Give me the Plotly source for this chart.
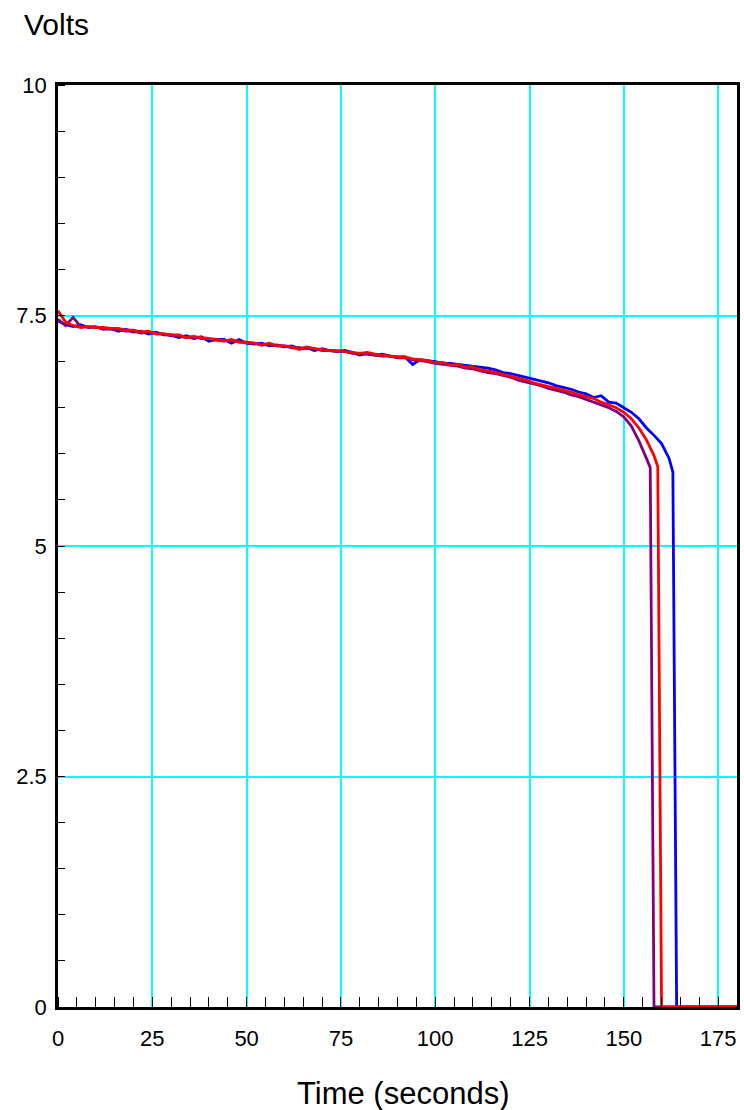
import plotly.graph_objects as go

# Battery discharge runs: voltage sampled every 2 s, then the knee and cutoff
step_s = 2

blue_v = [7.44, 7.40, 7.38, 7.40, 7.37, 7.38, 7.35, 7.36, 7.33, 7.35,
          7.32, 7.33, 7.30, 7.32, 7.29, 7.29, 7.26, 7.28, 7.25, 7.27,
          7.22, 7.24, 7.24, 7.20, 7.24, 7.20, 7.19, 7.20, 7.17, 7.18,
          7.16, 7.17, 7.14, 7.15, 7.12, 7.14, 7.12, 7.11, 7.12, 7.10,
          7.07, 7.09, 7.07, 7.08, 7.06, 7.05, 7.05, 6.97, 7.02, 7.01,
          7.00, 6.98, 6.98, 6.97, 6.96, 6.95, 6.94, 6.93, 6.91, 6.88,
          6.87, 6.85, 6.83, 6.81, 6.79, 6.77, 6.74, 6.72, 6.70, 6.67,
          6.65, 6.61, 6.63, 6.56, 6.55]
blue_tail_t = [150, 152, 154, 156, 158, 160, 162, 163, 164, 180]
blue_tail_v = [6.50, 6.45, 6.38, 6.28, 6.20, 6.11, 5.95, 5.80, 0, 0]

purple_v = [7.46, 7.39, 7.48, 7.38, 7.38, 7.37, 7.36, 7.35, 7.35, 7.33,
            7.33, 7.31, 7.32, 7.30, 7.30, 7.28, 7.28, 7.26, 7.27, 7.25,
            7.25, 7.23, 7.23, 7.22, 7.22, 7.20, 7.20, 7.18, 7.19, 7.17,
            7.17, 7.15, 7.15, 7.14, 7.14, 7.12, 7.12, 7.11, 7.11, 7.09,
            7.09, 7.08, 7.07, 7.06, 7.06, 7.04, 7.04, 7.02, 7.01, 7.00,
            6.98, 6.97, 6.96, 6.95, 6.93, 6.92, 6.90, 6.88, 6.87, 6.85,
            6.83, 6.80, 6.78, 6.76, 6.74, 6.71, 6.69, 6.67, 6.64, 6.62,
            6.59, 6.56, 6.53, 6.50, 6.46]
purple_tail_t = [150, 152, 154, 156, 157, 158, 180]
purple_tail_v = [6.40, 6.30, 6.14, 5.95, 5.85, 0, 0]

red_v = [7.55, 7.43, 7.39, 7.37, 7.38, 7.37, 7.37, 7.36, 7.36, 7.34,
         7.34, 7.32, 7.33, 7.30, 7.30, 7.29, 7.29, 7.26, 7.27, 7.26,
         7.25, 7.24, 7.22, 7.24, 7.21, 7.21, 7.20, 7.18, 7.20, 7.17,
         7.17, 7.16, 7.13, 7.16, 7.14, 7.13, 7.12, 7.12, 7.11, 7.10,
         7.09, 7.10, 7.08, 7.07, 7.06, 7.05, 7.05, 7.03, 7.02, 7.01,
         6.99, 6.99, 6.96, 6.97, 6.94, 6.94, 6.91, 6.90, 6.88, 6.86,
         6.84, 6.82, 6.80, 6.77, 6.75, 6.73, 6.71, 6.69, 6.67, 6.64,
         6.62, 6.60, 6.56, 6.53, 6.50]
red_tail_t = [150, 152, 154, 156, 158, 159, 160, 180]
red_tail_v = [6.45, 6.38, 6.28, 6.15, 5.98, 5.86, 0, 0]

x_ticks = [0, 25, 50, 75, 100, 125, 150, 175]
y_ticks = [0, 2.5, 5, 7.5, 10]
y_tick_text = ["0", "2.5", "5", "7.5", "10"]

series = [
    ("#0000FF", blue_v, blue_tail_t, blue_tail_v),
    ("#800080", purple_v, purple_tail_t, purple_tail_v),
    ("#FF0000", red_v, red_tail_t, red_tail_v),
]

FONT = "Liberation Sans, Arial, Helvetica, sans-serif"
GRID = "#00FFFF"

fig = go.Figure()
for color, v, tail_t, tail_v in series:
    t = [i * step_s for i in range(len(v))] + tail_t
    fig.add_trace(go.Scatter(
        x=t, y=v + tail_v, mode="lines",
        line=dict(color=color, width=2.8),
        showlegend=False, hoverinfo="skip",
    ))

axis_common = dict(
    showline=True, linecolor="black", linewidth=2.5, mirror=True,
    showgrid=True, gridcolor=GRID, gridwidth=1.5,
    zeroline=False, ticks="",
    tickfont=dict(family=FONT, size=22, color="black"),
)

fig.update_xaxes(
    range=[0, 180], tickvals=x_ticks, ticklabelstandoff=10,
    minor=dict(dtick=5, ticks="inside", ticklen=10, tickwidth=1.2,
               tickcolor="black", showgrid=False),
    **axis_common,
)
fig.update_yaxes(
    range=[0, 10], tickvals=y_ticks, ticktext=y_tick_text, ticklabelstandoff=4,
    minor=dict(dtick=0.5, ticks="inside", ticklen=7, tickwidth=1.2,
               tickcolor="black", showgrid=False),
    **axis_common,
)

fig.add_annotation(
    text="Volts", xref="paper", yref="paper",
    x=-0.053, y=1.066, xanchor="left", yanchor="middle",
    showarrow=False, font=dict(family=FONT, size=30, color="black"),
)
fig.add_annotation(
    text="Time (seconds)", xref="paper", yref="paper",
    x=0.508, y=-0.094, xanchor="center", yanchor="middle",
    showarrow=False, font=dict(family=FONT, size=31, color="black"),
)

fig.update_layout(
    template="none",
    width=744, height=1110,
    margin=dict(l=58, r=7, t=85, b=103),
    paper_bgcolor="white", plot_bgcolor="white",
    font=dict(family=FONT, color="black"),
)

fig.write_html("out.html")
